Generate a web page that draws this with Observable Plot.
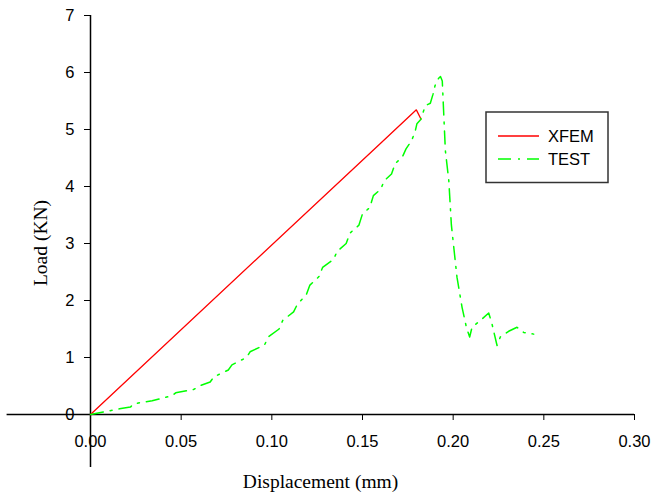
<!DOCTYPE html>
<html>
<head>
<meta charset="utf-8">
<script src="https://cdn.jsdelivr.net/npm/d3@7"></script>
<script src="https://cdn.jsdelivr.net/npm/@observablehq/plot@0.6"></script>
<style>
  html, body { margin: 0; padding: 0; background: #fff; }
  #chart { width: 651px; height: 495px; }
</style>
</head>
<body>
<div id="chart"></div>
<script>
// ---- data ----
const xfemX = [0, 0.16, 0.1797, 0.1823];
const xfemY = [0, 4.76, 5.345, 5.18];

const testX = [0, 0.008, 0.016, 0.022, 0.024, 0.034, 0.045, 0.047, 0.057, 0.060, 0.066, 0.068,
  0.076, 0.078, 0.086, 0.088, 0.096, 0.098, 0.104, 0.106, 0.112, 0.114, 0.119, 0.121,
  0.126, 0.128, 0.134, 0.136, 0.141, 0.143, 0.148, 0.150, 0.154, 0.156, 0.160, 0.162,
  0.166, 0.168, 0.172, 0.174, 0.177, 0.179, 0.180, 0.182, 0.1847, 0.1874, 0.1889, 0.190,
  0.192, 0.193, 0.194, 0.1957, 0.1976, 0.199, 0.2021, 0.2049, 0.2073, 0.2091, 0.2104,
  0.215, 0.2196, 0.2214, 0.2242, 0.226, 0.2306, 0.2352, 0.2389, 0.2444];
const testY = [0, 0.05, 0.10, 0.13, 0.19, 0.24, 0.33, 0.38, 0.44, 0.50, 0.57, 0.66,
  0.78, 0.87, 1.00, 1.10, 1.22, 1.36, 1.50, 1.65, 1.80, 1.93, 2.10, 2.27,
  2.42, 2.58, 2.72, 2.86, 3.00, 3.18, 3.32, 3.52, 3.63, 3.84, 3.95, 4.10,
  4.22, 4.40, 4.52, 4.66, 4.80, 4.96, 5.10, 5.17, 5.42, 5.46, 5.62, 5.77,
  5.90, 5.93, 5.85, 4.63, 4.10, 3.33, 2.41, 1.88, 1.53, 1.36, 1.53,
  1.65, 1.78, 1.59, 1.21, 1.36, 1.46, 1.53, 1.44, 1.41];

const xTicks = [0, 0.05, 0.10, 0.15, 0.20, 0.25, 0.30];
const yTicks = [0, 1, 2, 3, 4, 5, 6, 7];
const xAxisMin = -0.046;
const yAxisMin = -0.93;

const seriesNames = ["XFEM", "TEST"];
const seriesColors = ["#ff0000", "#00ff00"];
const testDash = "13,7,2,7";

const xfem = xfemX.map((x, i) => ({x, y: xfemY[i]}));
const test = testX.map((x, i) => ({x, y: testY[i]}));

const serif = "'Liberation Serif', 'Times New Roman', serif";
const sans = "'Liberation Sans', Arial, sans-serif";

const chart = Plot.plot({
  width: 651,
  height: 495,
  marginLeft: 90,
  marginRight: 17,
  marginTop: 15,
  marginBottom: 81,
  style: {fontFamily: sans, fontSize: "16.5px", color: "#000", background: "#fff"},
  x: {domain: [0, 0.30], ticks: xTicks, tickFormat: d => d.toFixed(2), tickSize: 6, tickPadding: 15, label: null},
  y: {domain: [0, 7], ticks: yTicks, tickFormat: d => String(d), tickSize: 6, tickPadding: 10, label: null},
  marks: [
    Plot.ruleY([0], {x1: xAxisMin, x2: 0.30, stroke: "#000", strokeWidth: 1.5}),
    Plot.ruleX([0], {y1: yAxisMin, y2: 7, stroke: "#000", strokeWidth: 1.5}),
    Plot.line(xfem, {x: "x", y: "y", stroke: seriesColors[0], strokeWidth: 1.3}),
    Plot.line(test, {x: "x", y: "y", stroke: seriesColors[1], strokeWidth: 1.5, strokeDasharray: testDash}),
    Plot.text(["Displacement (mm)"], {frameAnchor: "bottom", dx: -42, dy: 73, fontFamily: serif, fontSize: 19.5}),
    Plot.text(["Load (KN)"], {frameAnchor: "left", textAnchor: "middle", lineAnchor: "middle", dx: -50, dy: 28, rotate: -90, fontFamily: serif, fontSize: 19.5})
  ]
});
document.getElementById("chart").appendChild(chart);

// legend box
const svg = d3.select(chart);
const lg = svg.append("g").attr("text-anchor", "start");
lg.append("rect").attr("x", 486).attr("y", 112).attr("width", 122).attr("height", 70.5)
  .attr("fill", "#fff").attr("stroke", "#333").attr("stroke-width", 1.5);
seriesNames.forEach((name, i) => {
  const y = 136 + i * 23;
  lg.append("line").attr("x1", 498).attr("x2", 539).attr("y1", y).attr("y2", y)
    .attr("stroke", seriesColors[i]).attr("stroke-width", 1.4)
    .attr("stroke-dasharray", i === 1 ? testDash : null);
  lg.append("text").attr("x", 548).attr("y", y + 6).text(name)
    .attr("text-anchor", "start")
    .attr("font-family", sans).attr("font-size", 16.5).attr("fill", "#000");
});
</script>
</body>
</html>
